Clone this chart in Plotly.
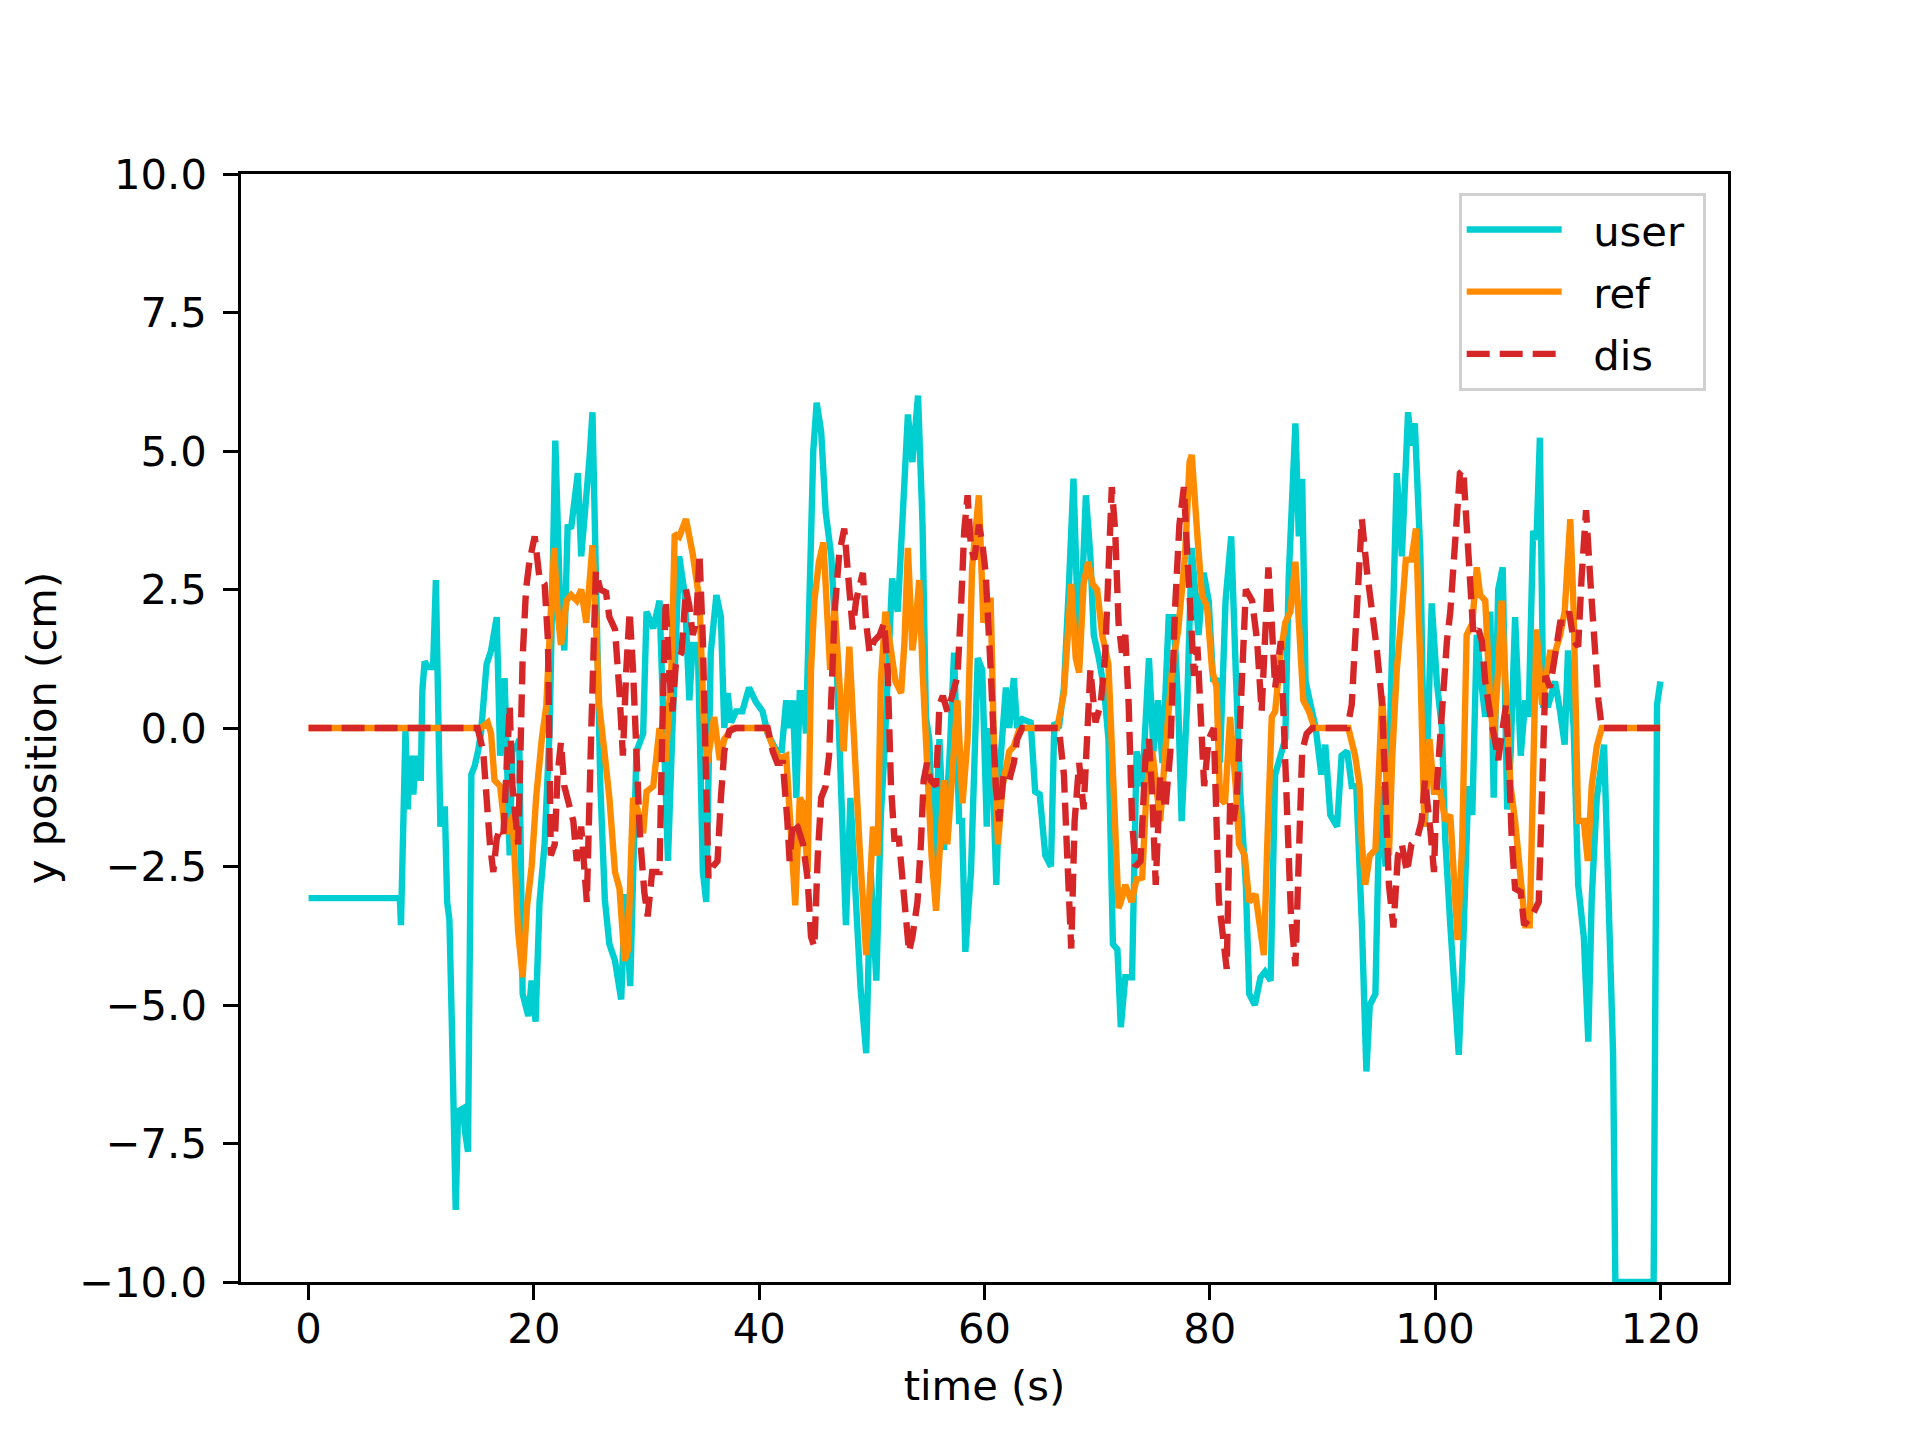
import plotly.graph_objects as go

# ---------------- data ----------------
user_t = [0, 8.1, 8.2, 8.45, 8.6, 8.8, 9.0, 9.3, 9.5, 9.7, 9.96, 10.1, 10.3, 10.6, 11.05, 11.3, 11.5, 11.7, 11.9, 12.1,
          12.3, 12.5, 12.7, 13.06, 13.27, 13.7, 13.9, 14.15, 14.45, 14.75, 15.04, 15.3, 15.8, 16.2, 16.7, 17.0, 17.4, 17.6, 17.85, 18.1,
          18.4, 18.7, 19.0, 19.5, 19.8, 20.15, 20.5, 20.95, 21.4, 21.9, 22.3, 22.7, 23.0, 23.3, 23.9, 24.2, 24.6, 24.95, 25.2, 25.6,
          25.9, 26.3, 26.7, 27.2, 27.75, 28.1, 28.55, 29.1, 29.7, 30.0, 30.6, 31.15, 31.6, 31.9, 32.3, 32.9, 33.4, 33.8, 34.1, 34.55,
          35.0, 35.3, 35.7, 36.2, 36.6, 36.9, 37.2, 37.5, 37.95, 38.5, 39.1, 39.7, 40.3, 40.75, 41.5, 42.0, 42.4, 42.7, 43.0, 43.3,
          43.6, 43.9, 44.15, 44.45, 44.8, 45.1, 45.5, 45.9, 46.4, 46.8, 47.3, 47.7, 48.1, 48.6, 49.0, 49.5, 49.9, 50.4, 50.8, 51.1,
          51.55, 51.8, 52.3, 52.7, 53.2, 53.6, 54.1, 54.5, 54.8, 55.1, 55.5, 56.0, 56.4, 56.9, 57.3, 57.75, 58.0, 58.3, 58.8, 59.4,
          59.8, 60.2, 60.4, 60.7, 61.05, 61.4, 61.9, 62.2, 62.6, 62.9, 63.35, 64.1, 64.5, 64.9, 65.4, 65.9, 66.2, 66.6, 67.05, 67.5,
          67.9, 68.4, 69.0, 69.4, 69.7, 70.15, 70.6, 71.0, 71.4, 71.8, 72.1, 72.5, 73.1, 73.5, 74.0, 74.6, 75.0, 75.4, 75.8, 76.35,
          76.8, 77.2, 77.5, 78.0, 78.4, 79.0, 79.45, 79.9, 80.3, 80.6, 80.9, 81.4, 81.9, 82.3, 82.7, 83.2, 83.5, 84.0, 84.5, 84.9,
          85.4, 85.8, 86.3, 86.7, 87.0, 87.6, 87.9, 88.2, 88.5, 88.9, 89.4, 89.9, 90.25, 90.7, 91.3, 91.7, 92.2, 92.6, 93.0, 93.5,
          93.9, 94.2, 94.7, 95.1, 95.6, 96.0, 96.6, 97.05, 97.6, 97.9, 98.2, 98.7, 99.1, 99.7, 100.15, 100.6, 100.9, 101.35, 101.8, 102.1,
          102.5, 102.95, 103.3, 103.7, 104.15, 104.45, 104.9, 105.2, 105.6, 106.0, 106.4, 106.7, 107.1, 107.6, 108.0, 108.3, 108.7, 109.0, 109.3, 109.6,
          110.06, 110.65, 111.1, 111.5, 111.8, 112.3, 112.7, 113.2, 113.6, 113.9, 114.35, 114.8, 115.0, 115.4, 115.8, 116.0, 119.4, 119.7, 120.0]
user_y = [-3.07, -3.07, -3.56, -1.52, -0.05, -1.47, -0.5, -1.2, -0.5, -0.9, -0.9, 0.68, 1.2, 1.1, 1.1, 2.67, 0.63, -1.78, -1.47, -1.47,
          -3.14, -3.46, -5.2, -8.7, -6.92, -6.87, -7.3, -7.65, -0.84, -0.68, -0.42, -0.1, 1.15, 1.4, 2.0, -0.5, 0.9, -0.5, -2.3, -0.3,
          -0.4, -0.2, -4.8, -5.2, -4.56, -5.3, -3.14, -2.1, 0.0, 5.19, 2.4, 1.4, 3.67, 3.6, 4.6, 3.1, 4.0, 4.9, 5.7, 1.57,
          -1.05, -3.1, -3.9, -4.2, -4.9, -3.0, -4.66, -0.42, -0.1, 2.1, 1.8, 2.3, -0.6, -2.4, 0.0, 3.1, 2.4, 0.5, 1.5, 1.5,
          -2.6, -3.14, 1.36, 2.4, 2.0, 0.0, 0.63, 0.1, 0.3, 0.3, 0.73, 0.47, 0.3, -0.1, -0.4, -0.4, 0.5, 0.0, 0.5, -1.26,
          0.63, 0.63, -0.1, 2.3, 5.0, 5.87, 5.35, 3.9, 3.1, 1.57, -1.05, -3.56, -1.26, -3.1, -4.7, -5.87, -2.6, -4.56, -1.57, -0.5,
          1.36, 2.7, 2.1, 3.67, 5.66, 4.8, 6.0, 3.67, 0.2, -0.2, -2.6, -0.2, -2.2, -0.5, 1.36, -1.68, -1.68, -4.04, -2.6, 1.26,
          1.05, -1.78, 0.0, -0.63, -2.83, -0.63, 0.73, 0.0, 0.9, 0.0, 0.16, 0.1, -1.15, -1.2, -2.3, -2.5, 0.1, 0.0, 0.73, 2.6,
          4.5, 1.15, 4.2, 3.1, 1.68, 1.26, 0.73, -0.2, -3.9, -4.0, -5.4, -4.5, -4.5, -0.42, -1.05, 1.26, -0.42, 0.5, -0.63, 2.0,
          2.0, 0.4, -1.68, 0.5, 3.25, 1.68, 2.8, 2.3, 0.84, 0.9, -0.63, 2.3, 3.46, 1.05, -1.15, -2.83, -4.8, -5.0, -4.5, -4.4,
          -4.56, -0.84, -0.42, -0.2, 2.7, 5.5, 3.46, 4.5, 0.84, 0.4, 0.0, -0.84, -0.3, -1.57, -1.78, -0.5, -0.42, -1.05, -1.05, -3.56,
          -6.2, -5.0, -4.8, -1.05, -2.5, 0.0, 4.6, 3.1, 5.7, 5.1, 5.5, 3.1, -1.78, 2.25, 0.84, 0.0, -2.0, -3.56, -5.24, -5.9,
          -3.9, -1.05, -1.57, 1.68, 0.73, 0.2, 2.1, -1.26, 2.5, 2.9, -1.47, -0.5, 2.0, -0.5, 0.5, 0.2, 3.56, 3.4, 5.24, 0.42,
          0.42, 0.84, 0.3, -0.3, 1.4, 0.0, -2.83, -3.77, -5.66, -3.1, -1.26, -0.63, -0.3, -3.1, -5.9, -10.0, -10.0, 0.42, 0.84]

ref_t = [0, 15.3, 15.9, 16.2, 16.5, 17.0, 17.4, 17.7, 18.1, 18.6, 19.0, 19.4, 19.8, 20.2, 20.7, 21.1, 21.5, 21.8, 22.1, 22.4,
         22.9, 23.3, 23.8, 24.2, 24.65, 25.2, 25.5, 25.8, 26.3, 26.7, 27.2, 27.6, 28.05, 28.35, 28.8, 29.2, 29.7, 30.0, 30.6, 31.15,
         31.7, 32.2, 32.5, 32.9, 33.5, 34.1, 34.7, 35.1, 35.4, 36.0, 36.5, 36.9, 37.65, 40.6, 41.2, 41.8, 42.4, 42.7, 43.2, 43.6,
         43.9, 44.3, 44.6, 44.9, 45.3, 45.7, 45.9, 46.3, 46.7, 47.05, 47.5, 48.0, 48.4, 48.9, 49.5, 49.8, 50.1, 50.5, 50.8, 51.2,
         51.7, 52.1, 52.6, 52.9, 53.2, 53.6, 53.9, 54.2, 54.5, 55.0, 55.3, 55.7, 56.1, 56.4, 56.7, 57.2, 57.6, 58.05, 58.5, 58.9,
         59.5, 59.9, 60.3, 60.55, 60.8, 61.2, 61.6, 62.2, 62.6, 63.05, 63.5, 66.45, 67.05, 67.7, 68.1, 68.4, 68.8, 69.2, 69.6, 70.0,
         70.45, 71.0, 71.5, 71.9, 72.1, 72.5, 73.05, 73.5, 74.0, 74.4, 74.9, 75.2, 75.6, 76.05, 76.65, 77.2, 77.8, 78.2, 78.4, 78.9,
         79.3, 79.75, 80.2, 80.6, 80.9, 81.35, 81.8, 82.3, 82.6, 83.1, 83.5, 84.05, 84.5, 84.8, 85.1, 85.5, 85.8, 86.3, 86.7, 87.15,
         87.6, 87.9, 88.3, 88.8, 89.3, 92.3, 92.9, 93.3, 93.5, 93.8, 94.2, 94.7, 95.0, 95.3, 95.6, 95.9, 96.2, 96.6, 97.05, 97.4,
         97.9, 98.3, 98.7, 99.05, 99.5, 99.9, 100.45, 100.9, 101.35, 101.6, 102.0, 102.4, 102.8, 103.3, 103.7, 104.0, 104.45, 104.9, 105.2, 105.6,
         105.9, 106.2, 106.7, 107.1, 107.6, 108.0, 108.4, 108.7, 109.0, 109.5, 109.8, 110.2, 110.65, 111.1, 111.5, 112.0, 112.3, 112.7, 113.2, 113.55,
         113.9, 114.35, 114.8, 120.0]
ref_y = [0, 0, 0.1, -0.1, -0.94, -1.05, -1.78, -1.9, -1.57, -3.67, -4.5, -3.2, -2.5, -1.26, -0.2, 0.4, 2.1, 3.25, 2.1, 1.5,
         2.3, 2.4, 2.3, 2.5, 1.9, 3.3, 1.9, 0.4, -0.5, -1.26, -2.6, -2.9, -4.2, -4.0, -1.26, -1.47, -1.9, -1.15, -1.05, 0.0,
         -0.6, 1.05, 3.5, 3.45, 3.77, 3.14, 2.3, 0.0, -0.63, 0.2, -0.58, -0.2, 0.0, 0.0, -0.33, -0.55, -0.5, -1.68, -3.2, -1.26,
         -1.36, -2.6, 1.05, 2.3, 3.0, 3.35, 2.5, 1.05, 2.2, 1.05, -0.42, 1.47, -0.2, -2.1, -4.1, -2.96, -1.78, -2.3, 0.84, 2.1,
         1.47, 0.84, 0.63, 1.57, 3.25, 1.4, 1.89, 2.67, 1.05, -1.26, -2.3, -3.3, -2.0, -0.94, -2.1, -0.5, 0.5, -1.36, -0.2, 2.9,
         4.2, 1.9, 2.3, 2.3, 0.0, -2.1, -1.05, -0.42, -0.33, -0.05, 0, 0, 0.63, 2.6, 1.26, 1.0, 2.6, 3.0, 2.6, 2.5,
         1.68, 1.15, -1.05, -3.25, -3.14, -2.83, -3.14, -2.73, -2.7, -1.05, -0.42, -1.05, -1.68, -0.42, 1.05, 1.78, 3.1, 4.8, 4.93, 3.46,
         2.4, 2.2, 1.05, 0.73, -1.26, -1.36, 0.2, -1.05, -2.1, -2.3, -3.14, -3.0, -3.77, -4.1, -2.1, 0.2, 0.3, 1.36, 1.9, 2.1,
         3.0, 1.78, 0.5, 0.3, 0, 0, -0.5, -1.05, -2.1, -2.83, -2.3, -2.2, -1.05, 0.58, -0.5, -2.3, -0.5, 1.05, 2.1, 3.04,
         3.04, 3.6, 1.05, -1.78, -0.2, -1.15, -1.15, -1.68, -1.57, -2.4, -3.83, -2.1, 1.68, 1.89, 2.9, 2.4, 2.3, 0.42, -0.2, 1.05,
         2.3, 1.05, -1.05, -1.68, -2.9, -3.56, -3.56, -1.05, 1.78, 0.42, 0.84, 1.36, 1.36, 1.68, 2.1, 3.77, 2.1, -1.68, -1.68, -2.4,
         -1.05, -0.33, 0, 0]

dis_t = [0, 15.0, 15.5, 15.8, 16.1, 16.4, 16.7, 17.0, 17.3, 17.55, 17.85, 18.1, 18.3, 18.6, 18.8, 19.0, 19.3, 19.6, 20.07, 20.5,
         20.95, 21.25, 21.5, 21.85, 22.1, 22.4, 22.7, 23.0, 23.5, 23.8, 24.2, 24.5, 24.7, 25.1, 25.5, 25.9, 26.4, 26.7, 27.2, 27.6,
         27.9, 28.2, 28.5, 28.8, 29.1, 29.4, 29.8, 30.1, 30.5, 30.9, 31.15, 31.4, 31.7, 32.0, 32.3, 32.6, 33.1, 33.5, 33.8, 34.1,
         34.4, 34.7, 35.0, 35.3, 35.5, 35.9, 36.3, 36.6, 36.9, 37.35, 37.95, 40.75, 41.2, 41.6, 42.1, 42.5, 42.7, 43.0, 43.4, 43.9,
         44.3, 44.6, 44.9, 45.2, 45.5, 45.9, 46.2, 46.7, 47.1, 47.55, 48.0, 48.3, 48.6, 49.0, 49.2, 49.5, 49.8, 50.2, 50.7, 51.1,
         51.4, 51.7, 52.0, 52.4, 52.9, 53.3, 53.6, 54.05, 54.35, 54.6, 54.9, 55.2, 55.7, 56.0, 56.3, 56.7, 57.2, 57.6, 57.9, 58.2,
         58.5, 58.8, 59.1, 59.5, 59.8, 60.1, 60.55, 61.0, 61.3, 61.7, 62.2, 62.6, 62.9, 63.35, 66.6, 67.05, 67.3, 67.7, 68.0, 68.4,
         68.8, 69.1, 69.4, 69.85, 70.3, 70.7, 71.0, 71.3, 71.6, 71.9, 72.2, 72.5, 72.8, 73.1, 73.4, 73.85, 74.3, 74.6, 74.9, 75.2,
         75.6, 76.05, 76.5, 76.9, 77.3, 77.7, 78.0, 78.3, 78.6, 78.9, 79.2, 79.5, 79.9, 80.35, 80.8, 81.5, 81.8, 82.1, 82.4, 82.9,
         83.2, 83.75, 84.2, 84.6, 84.9, 85.2, 85.5, 85.8, 86.3, 86.6, 86.9, 87.2, 87.6, 87.9, 88.2, 88.6, 89.1, 92.2, 92.6, 92.9,
         93.3, 93.5, 93.95, 94.4, 94.8, 95.3, 95.6, 95.9, 96.3, 96.7, 97.05, 97.5, 97.9, 98.4, 98.8, 99.1, 99.6, 99.9, 100.15, 100.6,
         101.05, 101.35, 101.8, 102.2, 102.5, 102.8, 103.1, 103.4, 103.85, 104.15, 104.45, 104.75, 105.0, 105.3, 105.6, 106.0, 106.3, 106.6, 106.8, 107.1,
         107.6, 107.9, 108.3, 108.7, 109.2, 109.5, 109.8, 110.2, 110.65, 111.1, 111.5, 111.9, 112.3, 112.7, 113.0, 113.4, 113.8, 114.1, 114.5, 114.8,
         120.0]
dis_y = [0, 0, -0.42, -1.36, -2.1, -2.6, -2.0, -1.8, -1.9, -0.84, 0.4, -1.05, -1.57, -2.1, -0.5, 1.26, 2.5, 3.0, 3.46, 2.7,
         2.6, 1.57, -2.3, -2.1, -0.84, -0.26, -1.05, -1.26, -1.68, -2.4, -1.78, -2.6, -3.14, 0.0, 2.83, 2.5, 2.45, 2.0, 1.78, 0.63,
         -0.5, 1.05, 2.1, 1.05, -0.5, -1.9, -2.96, -3.4, -2.6, -2.6, -2.6, 0.0, 2.3, 1.05, 0.3, 1.15, 1.36, 2.5, 2.2, 1.68,
         1.9, 3.14, 1.57, -1.05, -2.7, -2.5, -2.4, -1.26, -0.42, -0.05, 0, 0, -0.42, -0.63, -0.63, -1.68, -2.4, -1.68, -1.78, -2.1,
         -2.73, -3.77, -3.95, -2.3, -1.26, -1.05, -0.5, 2.1, 3.14, 3.6, 2.6, 1.78, 2.3, 2.7, 2.8, 1.89, 1.36, 1.57, 1.68, 1.9,
         1.05, -1.05, -2.0, -2.0, -3.14, -4.04, -3.77, -3.14, -2.1, -0.94, -0.63, -0.94, -1.05, 0.42, 0.58, 0.3, 0.63, 0.94, 2.1, 3.56,
         4.2, 3.25, 3.04, 3.67, 3.35, 2.8, 1.05, -1.05, -1.68, -0.84, -0.94, -0.63, -0.2, 0, 0, -0.84, -2.1, -3.98, -1.68, -0.63,
         -1.47, 0, 1.05, 0.1, 0.42, 1.26, 2.6, 4.35, 3.56, 1.89, 1.36, 1.68, 0.42, -1.68, -2.5, -2.4, -0.5, -0.2, -1.26, -2.83,
         -0.84, -1.47, -0.42, 2.1, 3.67, 4.35, 3.14, 1.89, 0.94, 1.47, 0.42, -1.05, -0.2, 0.0, -3.1, -4.35, -1.36, -1.68, -1.26, 1.05,
         2.5, 2.3, 1.57, 0.3, 1.68, 2.9, 1.89, 0.73, 1.57, 0.0, -1.89, -3.35, -4.3, -2.1, -0.42, -0.1, 0, 0, 0.42, 1.57,
         3.14, 3.77, 2.83, 2.1, 1.47, 0.42, -1.26, -2.83, -3.6, -2.3, -2.1, -2.6, -2.1, -2.0, -1.68, -0.94, -1.89, -2.6, -1.05, 0.5,
         1.57, 2.1, 3.67, 4.6, 4.66, 3.67, 2.6, 1.68, 1.78, 1.57, 0.84, 0.3, 0.1, -0.2, -0.58, 0, 0.42, -0.84, -2.0, -2.9,
         -2.96, -3.56, -3.46, -3.35, -3.14, -1.05, 0.94, 0.73, 1.26, 1.9, 1.9, 2.1, 1.57, 1.47, 2.7, 3.93, 2.6, 1.57, 0.5, 0,
         0]

series_names = ["user", "ref", "dis"]
x_ticks = [0, 20, 40, 60, 80, 100, 120]
y_ticks = [-10, -7.5, -5, -2.5, 0, 2.5, 5, 7.5, 10]
y_tick_text = ["\u221210.0", "\u22127.5", "\u22125.0", "\u22122.5", "0.0", "2.5", "5.0", "7.5", "10.0"]

# ---------------- figure ----------------
FONT = "DejaVu Sans"
FS = 41.7
LW = 6.4
NB = "\u00a0\u00a0"

fig = go.Figure()
fig.add_trace(go.Scatter(x=user_t, y=user_y, mode="lines", name=NB + series_names[0] + "\u00a0",
                         legendgroup="g1", line=dict(color="#00CED1", width=LW)))
fig.add_trace(go.Scatter(x=ref_t, y=ref_y, mode="lines", name=NB + series_names[1],
                         legendgroup="g2", line=dict(color="#FF8C00", width=LW)))
fig.add_trace(go.Scatter(x=dis_t, y=dis_y, mode="lines", name=NB + series_names[2],
                         legendgroup="g3", line=dict(color="#D62728", width=LW, dash="23px,10px")))

axis_common = dict(showgrid=False, zeroline=False, showline=True, linecolor="black",
                   linewidth=3.3, mirror=True, ticks="outside", ticklen=14.6,
                   tickwidth=3.3, tickcolor="black",
                   tickfont=dict(family=FONT, size=FS, color="black"))

fig.update_layout(
    width=1920, height=1440,
    margin=dict(l=241, r=192, t=174, b=158, autoexpand=False),
    paper_bgcolor="white", plot_bgcolor="white",
    font=dict(family=FONT, size=FS, color="black"),
    xaxis=dict(range=[-6, 126], tickvals=x_ticks, ticktext=[str(v) for v in x_ticks],
               title=dict(text="time (s)", font=dict(family=FONT, size=FS, color="black"), standoff=20),
               ticklabelstandoff=-7, **axis_common),
    yaxis=dict(range=[-10, 10], tickvals=y_ticks, ticktext=y_tick_text,
               title=dict(text="y position (cm)", font=dict(family=FONT, size=FS, color="black"), standoff=10),
               ticklabelstandoff=8, **axis_common),
    legend=dict(x=0.985, y=0.983, xanchor="right", yanchor="top",
                bgcolor="rgba(255,255,255,0.8)", bordercolor="#d0d0d0", borderwidth=3,
                font=dict(family=FONT, size=FS, color="black"), itemwidth=95,
                tracegroupgap=5),
    showlegend=True,
)

fig.write_html("out.html")
